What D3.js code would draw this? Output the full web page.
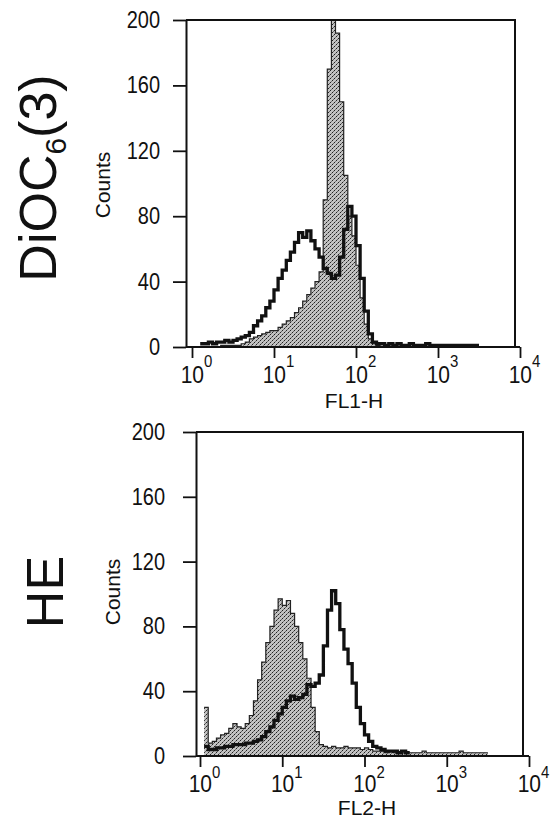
<!DOCTYPE html>
<html><head><meta charset="utf-8">
<script src="https://cdn.jsdelivr.net/npm/d3@7"></script>
<style>
body{margin:0;background:#fff}
svg{display:block}
text{font-family:"Liberation Sans",Arial,Helvetica,sans-serif;fill:#111}
.tall{transform-box:fill-box;transform-origin:center;transform:scaleY(1.15)}
</style>
</head><body>
<svg id="chart" width="557" height="819"></svg>
<script>
// ---------- DATA ----------
// log10 channel of first bin and bin width (log10 units)
const binWidth = 0.05;
const topStart = 0.10;
const bottomStart = 0.05;
const yTicks = [0, 40, 80, 120, 160, 200];
const xTicks = [0, 1, 2, 3, 4];           // exponents: 10^0 .. 10^4
const panelLabels = ["DiOC", "HE"];
const xTitles = ["FL1-H", "FL2-H"];
const yTitle = "Counts";

// DiOC6(3) panel (FL1-H)
const topGray = [0,0,0,0,0,1,1,1,1,1, 2,3,5,6,7,8,9,10,10,12, 14,16,18,21,24,28,32,36,40,46,
  90,170,230,192,150,105,80,68,50,30, 14,5,2,1];
const topBlack = [2,2,3,2,3,3,4,3,4,5, 6,7,9,13,16,19,24,28,35,42, 47,53,58,64,70,67,71,65,60,55,
  48,45,42,44,55,72,86,80,62,42, 22,8,3,2,2,1,2,1,2,1, 1,2,1,1,1,2,1,1,1,1, 1,1,1,1,1,1,1,1];

// HE panel (FL2-H)
const bottomGray = [30,8,9,11,13,14,17,20,18,17, 20,25,34,47,58,70,80,90,97,93, 96,88,80,70,60,48,30,15,7,6,
  5,6,5,5,6,5,5,5,4,5, 4,3,3,3,2,3,2,2,3,2, 2,2,2,3,2,2,2,2,2,2, 2,2,3,2,2,2,2,2,2];
const bottomBlack = [6,4,4,5,5,6,6,7,7,7, 8,8,9,10,12,15,18,22,26,30, 34,37,35,36,38,44,43,45,50,68,
  90,102,94,78,66,57,45,30,20,13, 9,6,5,4,3,3,3,2,3,2];

// ---------- DRAW ----------
const svg = d3.select("#chart");
svg.append("rect").attr("width",557).attr("height",819).attr("fill","#fff");

const defs = svg.append("defs");
const pat = defs.append("pattern").attr("id","stipple").attr("patternUnits","userSpaceOnUse")
  .attr("width",4).attr("height",4);
pat.append("rect").attr("width",4).attr("height",4).attr("fill","#c2c2c2");
pat.append("rect").attr("x",0).attr("y",0).attr("width",1).attr("height",1).attr("fill","#222");
pat.append("rect").attr("x",2).attr("y",2).attr("width",1).attr("height",1).attr("fill","#222");
pat.append("rect").attr("x",1).attr("y",3).attr("width",1).attr("height",1).attr("fill","#666");
pat.append("rect").attr("x",3).attr("y",1).attr("width",1).attr("height",1).attr("fill","#777");

const layouts = [
  {axX:186, xl:192, xr:520, right:515, yb:347, yt:20, pad:13, titleX:354, titleY:408,
   supDy:-14, labBase:34, countsX:110, countsY:185, bigX:56, bigY:178},
  {axX:196, xl:200, xr:529, right:523, yb:756, yt:432, pad:18, titleX:367, titleY:815,
   supDy:-12, labBase:34, countsX:120, countsY:592, bigX:63, bigY:592}
];

function series(start, counts){
  const pts = counts.map((c,i)=>({x:start+i*binWidth, y:c}));
  pts.push({x:start+counts.length*binWidth, y:counts[counts.length-1]});
  return pts;
}

function drawPanel(k, start, gray, black){
  const L = layouts[k];
  const x = d3.scaleLinear().domain([0,4]).range([L.xl, L.xr]);
  const y = d3.scaleLinear().domain([0,200]).range([L.yb, L.yt]);
  const g = svg.append("g");

  defs.append("clipPath").attr("id","clip"+k).append("rect")
    .attr("x",L.axX).attr("y",L.yt).attr("width",L.right-L.axX).attr("height",L.yb-L.yt);

  const plot = g.append("g").attr("clip-path",`url(#clip${k})`);
  const gp = series(start, gray), bp = series(start, black);
  plot.append("path").datum(gp)
    .attr("d", d3.area().x(d=>x(d.x)).y0(y(0)).y1(d=>y(d.y)).curve(d3.curveStepAfter))
    .attr("fill","url(#stipple)");
  plot.append("path").datum(gp)
    .attr("d", d3.line().x(d=>x(d.x)).y(d=>y(d.y)).curve(d3.curveStepAfter))
    .attr("fill","none").attr("stroke","#222").attr("stroke-width",1.2);
  plot.append("path").datum(bp)
    .attr("d", d3.line().x(d=>x(d.x)).y(d=>y(d.y)).curve(d3.curveStepAfter))
    .attr("fill","none").attr("stroke","#111").attr("stroke-width",3.3).attr("stroke-linejoin","miter");

  // frame (top & right)
  g.append("path").attr("d",`M${L.axX},${L.yt}H${L.right}V${L.yb}`)
    .attr("fill","none").attr("stroke","#111").attr("stroke-width",2);

  // y axis
  const ya = g.append("g").attr("transform",`translate(${L.axX},0)`)
    .call(d3.axisLeft(y).tickValues(yTicks).tickSize(13).tickPadding(L.pad).tickSizeOuter(0));
  ya.select(".domain").attr("stroke","#111").attr("stroke-width",2);
  ya.selectAll(".tick line").attr("stroke","#111").attr("stroke-width",1.8);
  ya.selectAll(".tick text").attr("class","tall").attr("font-size",20)
    .attr("font-family","Liberation Sans, Arial, sans-serif").attr("fill","#111");

  // x axis
  const xa = g.append("g").attr("transform",`translate(0,${L.yb})`)
    .call(d3.axisBottom(x).tickValues(xTicks).tickSize(11).tickFormat("").tickSizeOuter(0));
  xa.select(".domain").attr("d",`M${L.axX},0H${L.xr}`).attr("stroke","#111").attr("stroke-width",2);
  xa.selectAll(".tick line").attr("stroke","#111").attr("stroke-width",1.8);
  xa.selectAll(".tick").each(function(v){
    const t = d3.select(this).append("text").attr("class","tall").attr("x",4).attr("y",L.labBase)
      .attr("text-anchor","middle").attr("font-size",21).attr("fill","#111")
      .attr("font-family","Liberation Sans, Arial, sans-serif");
    t.append("tspan").text("10");
    t.append("tspan").attr("font-size",15).attr("dy",L.supDy).text(v);
  });

  // axis titles
  g.append("text").attr("x",L.titleX).attr("y",L.titleY).attr("text-anchor","middle")
    .attr("font-size",21).text(xTitles[k]);
  g.append("text").attr("transform",`translate(${L.countsX},${L.countsY}) rotate(-90)`)
    .attr("text-anchor","middle").attr("font-size",21).text(yTitle);

  // big panel label
  const bt = g.append("text").attr("transform",`translate(${L.bigX},${L.bigY}) rotate(-90)`)
    .attr("text-anchor","middle").attr("font-size",52);
  bt.append("tspan").text(panelLabels[k]);
  if(k===0){
    bt.append("tspan").attr("font-size",30).attr("dy",10).text("6");
    bt.append("tspan").attr("dy",-10).text("(3)");
  }
}

drawPanel(0, topStart, topGray, topBlack);
drawPanel(1, bottomStart, bottomGray, bottomBlack);
</script>
</body></html>
